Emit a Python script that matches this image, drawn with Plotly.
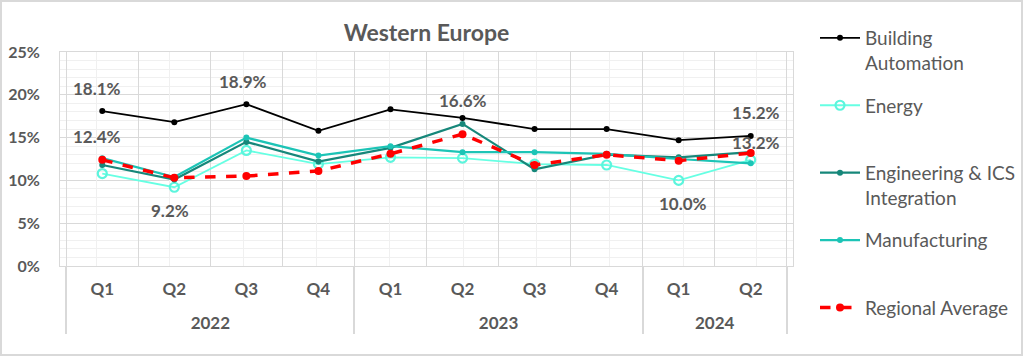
import plotly.graph_objects as go

# ---- data (values in %) ----
years = ["2022", "2022", "2022", "2022", "2023", "2023", "2023", "2023", "2024", "2024"]
quarters = ["Q1", "Q2", "Q3", "Q4", "Q1", "Q2", "Q3", "Q4", "Q1", "Q2"]

building_automation = [18.1, 16.8, 18.9, 15.8, 18.3, 17.3, 16.0, 16.0, 14.7, 15.2]
energy = [10.8, 9.2, 13.5, 11.9, 12.7, 12.6, 11.9, 11.8, 10.0, 12.4]
engineering_ics = [11.8, 10.1, 14.5, 12.2, 13.8, 16.6, 11.3, 13.0, 12.7, 13.3]
manufacturing = [12.6, 10.4, 15.0, 12.9, 14.0, 13.3, 13.3, 13.1, 12.5, 12.0]
regional_average = [12.4, 10.3, 10.5, 11.1, 13.1, 15.4, 11.8, 13.0, 12.3, 13.2]

series_names = ["Building Automation", "Energy", "Engineering & ICS Integration",
                "Manufacturing", "Regional Average"]
title_text = "Western Europe"

FONT = "Lato"
GRAY = "#595959"

W, H = 1024, 357
ML, MR, MT, MB = 60, 231, 52, 91
pw = W - ML - MR
ph = H - MT - MB

# legend display names: wrap long names, pad short ones to two lines (equal slots)
legend_names = ["Building<br>Automation", "Energy<br> ", "Engineering & ICS<br>Integration",
                "Manufacturing<br> ", "Regional Average<br> "]

# quarter tick labels with a small spacer line to push the year row down
quarter_ticks = [q + "<br><span style='font-size:5px'> </span>" for q in quarters]
x = [years, quarter_ticks]

styles = [
    (dict(color="#000000", width=1.8), dict(symbol="circle", size=6, color="#000000")),
    (dict(color="#66FFE3", width=1.8),
     dict(symbol="circle-open", size=9, color="#5CF5DD", line=dict(width=2.2))),
    (dict(color="#16877A", width=2.2), dict(symbol="circle", size=6, color="#16877A")),
    (dict(color="#1CC4B6", width=2.2), dict(symbol="circle", size=6, color="#1CC4B6")),
    (dict(color="#FF0000", width=3.5, dash="dash"), dict(symbol="circle", size=8, color="#FF0000")),
]
values = [building_automation, energy, engineering_ics, manufacturing, regional_average]

fig = go.Figure()
for i, (vals, (line, marker)) in enumerate(zip(values, styles)):
    fig.add_trace(go.Scatter(
        x=x, y=vals, name=legend_names[i], mode="lines+markers",
        line=line, marker=marker, legendgroup=f"g{i}",
        hovertemplate=series_names[i] + ": %{y:.1f}%<extra></extra>",
    ))

# invisible trace on overlay linear axis (minor vertical grid & label anchoring)
fig.add_trace(go.Scatter(x=[None], y=[None], xaxis="x2", yaxis="y",
                         showlegend=False, hoverinfo="skip"))

# data labels
label_specs = [
    (building_automation, 0, 1), (building_automation, 2, 1), (regional_average, 0, 1),
    (energy, 1, -1), (engineering_ics, 5, 1), (energy, 8, -1),
    (building_automation, 9, 1), (regional_average, 9, 0.45),
]
for vals, idx, direction in label_specs:
    fig.add_annotation(
        x=idx, y=vals[idx], xref="x2", yref="y",
        text=f"{vals[idx]:.1f}%", showarrow=False,
        yshift=23 * direction,
        font=dict(family=FONT, size=17, color=GRAY, weight="bold"),
    )

fig.update_layout(
    width=W, height=H,
    margin=dict(l=ML, r=MR, t=MT, b=MB, autoexpand=False),
    paper_bgcolor="white", plot_bgcolor="white",
    title=dict(text=title_text, x=0.5, xref="paper", xanchor="center",
               y=1 - 33 / H, yref="container", yanchor="middle",
               font=dict(family=FONT, size=23, color=GRAY, weight="bold")),
    font=dict(family=FONT, color=GRAY),
    showlegend=True,
    legend=dict(x=(815 - ML) / pw, xanchor="left", y=1 + (MT - 19) / ph, yanchor="top",
                valign="top", tracegroupgap=15, traceorder="grouped", itemwidth=40,
                maxheight=1,
                font=dict(family=FONT, size=19, color=GRAY),
                bgcolor="rgba(0,0,0,0)"),
    xaxis=dict(
        type="multicategory", showgrid=True, gridcolor="#D9D9D9", gridwidth=1,
        tickson="boundaries", ticks="", showdividers=True, dividercolor="#D9D9D9",
        dividerwidth=1.5, showline=True, linecolor="#D9D9D9", mirror=True,
        ticklabelstandoff=8,
        tickfont=dict(family=FONT, size=17, color=GRAY, weight="bold"),
        zeroline=False, automargin=False,
    ),
    xaxis2=dict(overlaying="x", range=[-0.5, len(quarters) - 0.5], showgrid=True,
                gridcolor="#F0F0F0", gridwidth=1, tick0=0, dtick=1,
                showticklabels=False, ticks="", zeroline=False, anchor="y"),
    yaxis=dict(
        range=[0, 25], dtick=5, ticksuffix="%", showgrid=True, gridcolor="#D9D9D9",
        gridwidth=1, zeroline=False, showline=True, linecolor="#D9D9D9", mirror=True,
        minor=dict(dtick=1, showgrid=True, gridcolor="#F0F0F0", gridwidth=1),
        ticklabelstandoff=16, automargin=False,
        tickfont=dict(family=FONT, size=16, color=GRAY, weight="bold"),
    ),
)

# outer frame
fig.add_shape(type="rect", xref="paper", yref="paper",
              x0=(1 - ML) / pw, x1=(W - 2 - ML) / pw,
              y0=-(MB - 2) / ph, y1=1 + (MT - 1) / ph,
              line=dict(color="#D9D9D9", width=2), layer="below")

fig.write_html("out.html", config={"displayModeBar": False},
               post_script="document.body.style.margin='0';")
